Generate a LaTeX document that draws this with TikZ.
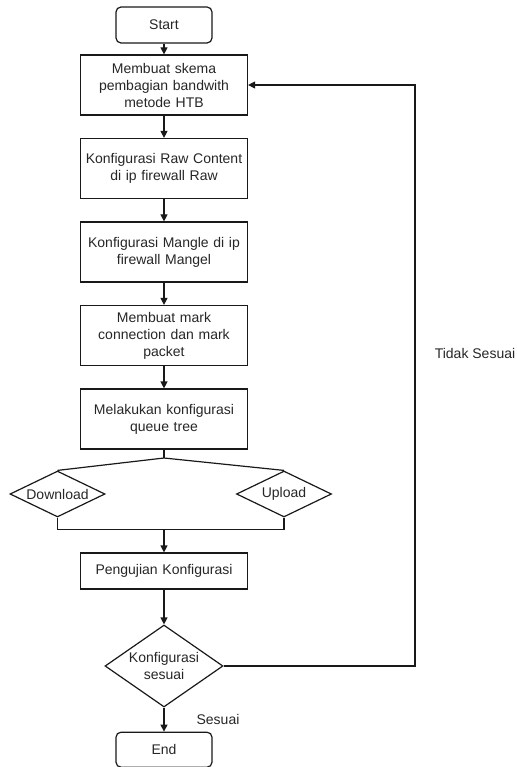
\documentclass[tikz,border=0pt]{standalone}
\usepackage{fontspec}
\setmainfont{Liberation Sans}
\usepackage{tikz}
\usetikzlibrary{shapes.geometric, arrows.meta, positioning}
\tikzstyle{terminal} = [rectangle, draw, rounded corners=5pt, minimum width=96pt, minimum height=36pt, align=center]
\tikzstyle{process} = [rectangle, draw, text width=160pt, align=center, minimum width=167pt, minimum height=60pt, inner sep=2pt]
\tikzstyle{choice} = [diamond, draw, minimum width=95pt, minimum height=46pt, inner sep=0pt, aspect=2]
\tikzstyle{decision} = [diamond, draw, minimum width=118pt, minimum height=82pt, inner sep=0pt, aspect=1.44, align=center]
\tikzstyle{arrow} = [-{Triangle[length=7pt, width=7pt]}]
\tikzstyle{line} = []

\begin{document}
\begin{tikzpicture}[x=1pt, y=-1pt, line width=1.2pt, draw=black!90, node distance=22.3pt, every node/.style={font=\fontsize{14}{17}\selectfont, text=black!85}]
\useasboundingbox (0,0) rectangle (516,767);

% Steps
\node[terminal] (start) at (164,25) {Start};
\node[process, below=10.8pt of start] (skema) {Membuat skema\\pembagian bandwith\\metode HTB};
\node[process, below=of skema] (raw) {Konfigurasi Raw Content\\di ip firewall Raw};
\node[process, below=of raw] (mangle) {Konfigurasi Mangle di ip\\firewall Mangel};
\node[process, below=of mangle] (mark) {Membuat mark\\connection dan mark\\packet};
\node[process, below=of mark] (queue) {Melakukan konfigurasi\\queue tree};

% Branches
\node[choice] (down) at (57.5,494) {Download};
\node[choice] (up) at (284,494) {Upload};
\coordinate (split) at (164,458);
\coordinate (merge) at (164,529);

\node[process, minimum height=36pt] (uji) at (164,571) {Pengujian Konfigurasi};
\node[decision] (cek) at (164,666) {Konfigurasi\\sesuai};
\node[terminal, minimum height=35pt, below=24pt of cek] (end) {End};
\coordinate (back) at (415,666);

% Labels
\node at (218,719) {Sesuai};
\node at (475,353) {Tidak Sesuai};

% Arrows
\draw[arrow] (start) -- (skema);
\draw[arrow] (skema) -- (raw);
\draw[arrow] (raw) -- (mangle);
\draw[arrow] (mangle) -- (mark);
\draw[arrow] (mark) -- (queue);
\draw[line] (queue) -- (split);
\draw[line] (split) -- (down.north);
\draw[line] (split) -- (up.north);
\draw[line] (down.south) -- ++(0,12) -| (up.south);
\draw[arrow] (merge) -- (uji);
\draw[arrow] (uji) -- (cek);
\draw[arrow] (cek) -- (end);

% Loop back
\draw[arrow] (cek.east) -- (back) |- (skema.east);

\end{tikzpicture}
\end{document}
